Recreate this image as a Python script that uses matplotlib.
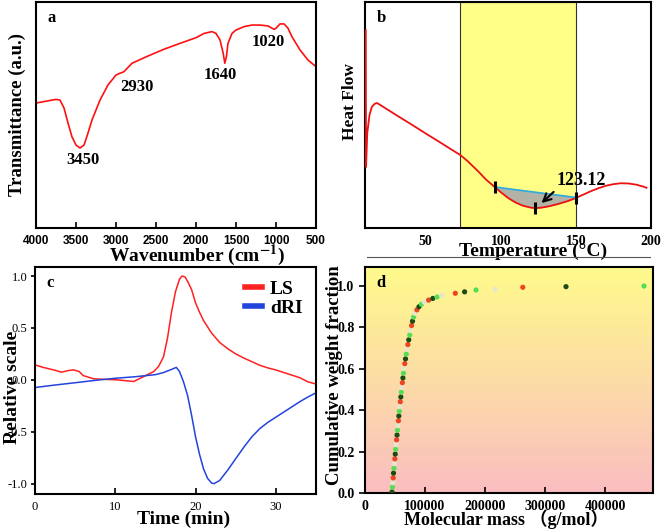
import numpy as np
import matplotlib
matplotlib.use('Agg')
import matplotlib.pyplot as plt
from matplotlib.lines import Line2D

plt.rcParams['mathtext.fontset'] = 'stix'

# ---- a: FTIR ----
wn_a = [4000, 3750, 3700, 3650, 3600, 3550, 3500, 3450, 3400, 3350, 3300, 3200, 3100, 3000,
        2950, 2930, 2900, 2800, 2600, 2400, 2200, 2000, 1900, 1800, 1750, 1700, 1660, 1640,
        1620, 1600, 1550, 1500, 1400, 1300, 1200, 1100, 1050, 1020, 1000, 950, 900, 850,
        800, 700, 600, 500]
tr_a = [55.3, 56.9, 56.6, 53.1, 46.5, 40.3, 36.7, 35.4, 36.7, 42.0, 47.8, 56.6, 63.3, 67.7,
        68.5, 68.7, 69.2, 72.9, 76.1, 79.1, 81.7, 84.2, 86.1, 86.9, 86.1, 83.2, 77.3, 72.9,
        75.8, 81.7, 86.1, 87.6, 89.1, 89.8, 89.8, 89.4, 88.4, 87.9, 88.4, 90.3, 90.3, 88.4,
        84.6, 78.8, 74.3, 71.4]
peaks_a = ['3450', '2930', '1640', '1020']
peak_pos_a = [(3412, 30), (2737, 62.4), (1700, 67.7), (1100, 82.3)]

# ---- b: DSC ----
temp_b = [10, 10.2, 11, 12.5, 14, 16, 17.5, 20, 30, 40, 50, 60, 70, 73, 78, 85, 90, 96, 100,
          105, 110, 115, 120, 123, 127, 132, 138, 145, 150, 155, 160, 165, 170, 175, 180,
          185, 190, 195, 197]
heat_b = [0.876, 0.27, 0.42, 0.50, 0.535, 0.55, 0.553, 0.543, 0.501, 0.46, 0.418, 0.377,
          0.335, 0.323, 0.295, 0.25, 0.215, 0.181, 0.158, 0.132, 0.112, 0.098, 0.09, 0.088,
          0.09, 0.096, 0.106, 0.12, 0.133, 0.148, 0.163, 0.176, 0.187, 0.194, 0.198, 0.197,
          0.192, 0.183, 0.178]
band_b = (73, 150)
base_t_b = [96, 150]
base_h_b = [0.181, 0.135]
mark_t_b = [96, 123, 150]
peak_label_b = '123.12'

# ---- c: GPC traces ----
t_ls = [0, 1, 2.3, 3.3, 4.2, 4.8, 5.5, 6, 7.3, 8.5, 10.2, 11.5, 12.3, 13.5, 14.8, 15.4, 16,
        16.5, 17, 17.5, 18, 18.3, 18.7, 19, 19.5, 20, 20.5, 21, 22, 23, 24, 25, 26, 27, 28,
        29, 30, 31, 32, 33, 34, 35]
ls = [0.144, 0.12, 0.096, 0.074, 0.09, 0.096, 0.08, 0.041, 0.01, 0.005, 0.0, -0.01, -0.016,
      0.03, 0.08, 0.13, 0.22, 0.4, 0.65, 0.85, 0.97, 1.0, 0.99, 0.95, 0.87, 0.74, 0.65, 0.57,
      0.45, 0.36, 0.3, 0.25, 0.21, 0.175, 0.14, 0.115, 0.095, 0.07, 0.045, 0.02, -0.02, -0.04]
t_dri = [0, 2.5, 5, 7.5, 10, 12.5, 15, 16, 17, 17.6, 18, 18.5, 19, 19.5, 20, 20.5, 21, 21.5,
         22, 22.3, 23, 24, 25, 26, 27, 28, 29, 30, 31, 32, 33, 34, 35]
dri = [-0.074, -0.05, -0.028, -0.005, 0.015, 0.03, 0.05, 0.07, 0.1, 0.12, 0.08, -0.02, -0.15,
       -0.34, -0.55, -0.72, -0.86, -0.95, -0.995, -1.0, -0.97, -0.87, -0.76, -0.65, -0.55,
       -0.47, -0.41, -0.36, -0.31, -0.26, -0.21, -0.165, -0.125]

# ---- d: cumulative weight fraction ----
mass_d = [45000, 45800, 46500, 47000, 47500, 48200, 49000, 49700, 50400, 51100, 51900, 52600,
          53400, 54100, 54900, 55700, 56400, 57200, 58000, 58800, 59700, 60500, 61400, 62300,
          63200, 64100, 65100, 66300, 67500, 68800, 70000, 71400, 72900, 74500, 76000, 77600,
          79200, 81000, 83500, 86500, 90000, 94000, 99000, 106000, 113000, 120000, 128000,
          150500, 166000, 185000, 217000, 263000, 335000, 465000]
frac_d = [0.005, 0.028, 0.05, 0.073, 0.096, 0.119, 0.142, 0.165, 0.188, 0.211, 0.234, 0.257,
          0.28, 0.303, 0.326, 0.349, 0.372, 0.395, 0.418, 0.441, 0.464, 0.487, 0.51, 0.533,
          0.556, 0.579, 0.602, 0.625, 0.648, 0.671, 0.694, 0.717, 0.74, 0.763, 0.786, 0.809,
          0.83, 0.85, 0.868, 0.885, 0.9, 0.912, 0.922, 0.932, 0.94, 0.947, 0.955,
          0.965, 0.972, 0.981, 0.984, 0.994, 0.997, 1.0]

SERIF = 'Liberation Serif'
dot_cols = ['#EE4422', '#1E4A14', '#55DD55', '#E6E6CC']

fig = plt.figure(figsize=(6.61, 5.30), dpi=100)
ax_a = fig.add_axes([36/661, 1-228/530, 280/661, 226/530])
ax_b = fig.add_axes([365/661, 1-228/530, 286/661, 226/530])
ax_c = fig.add_axes([35/661, 1-494/530, 281/661, 227/530])
ax_d = fig.add_axes([365/661, 1-493/530, 288/661, 226/530])

for ax in [ax_a, ax_b, ax_c, ax_d]:
    for sp in ax.spines.values():
        sp.set_linewidth(1.5)
    ax.tick_params(axis='x', direction='in', length=4, width=1.2, pad=5)
    ax.tick_params(axis='y', direction='out', length=4, width=1.2)

# a
ax_a.plot(wn_a, tr_a, color='#FF1010', lw=1.2)
ax_a.set_xlim(4000, 500)
ax_a.set_ylim(0, 100)
ax_a.set_xticks([4000, 3500, 3000, 2500, 2000, 1500, 1000, 500])
ax_a.set_yticks([])
for lb in ax_a.get_xticklabels():
    lb.set_fontfamily('Liberation Sans')
    lb.set_fontweight('bold')
    lb.set_fontsize(8.5)
for txt, (x, y) in zip(peaks_a, peak_pos_a):
    ax_a.text(x, y, txt, ha='center', va='center', fontsize=12, fontweight='bold', family=SERIF)
ax_a.text(0.04, 0.93, 'a', transform=ax_a.transAxes, fontsize=12, fontweight='bold',
          family=SERIF, va='center')
ax_a.set_xlabel('Wavenumber (cm$^{\\mathbf{-1}}$)', fontsize=14, fontweight='bold', family=SERIF)
ax_a.xaxis.set_label_coords(0.575, -0.065)
ax_a.set_ylabel('Transmittance (a.u.)', fontsize=13.5, fontweight='bold', family=SERIF)
ax_a.yaxis.set_label_coords(-0.035, 0.5)

# b
ax_b.axvspan(band_b[0], band_b[1], facecolor='#FFFF88', edgecolor='#333333', lw=0.8, zorder=0)
ax_b.plot(temp_b, heat_b, color='#EE1111', lw=1.3, zorder=3)
bt = np.linspace(base_t_b[0], base_t_b[1], 100)
ax_b.fill_between(bt, np.interp(bt, temp_b, heat_b), np.interp(bt, base_t_b, base_h_b),
                  color='#AAAAAA', alpha=0.9, lw=0, zorder=2)
ax_b.plot(base_t_b, base_h_b, color='#33AADD', lw=1.3, zorder=3)
ax_b.plot(mark_t_b, np.interp(mark_t_b, temp_b, heat_b), ls='none', marker='|', color='black',
          ms=8, mew=2.2, zorder=4)
ax_b.annotate('', xy=(125.7, 0.102), xytext=(136.5, 0.168),
              arrowprops=dict(arrowstyle='->', color='black', lw=1.5, mutation_scale=14), zorder=5)
ax_b.text(137, 0.172, peak_label_b, ha='left', va='bottom', fontsize=13, fontweight='bold',
          family=SERIF)
ax_b.set_xlim(9.5, 200)
ax_b.set_ylim(0, 1)
ax_b.set_xticks([50, 100, 150, 200])
ax_b.set_yticks([])
ax_b.tick_params(axis='x', length=0)
for lb in ax_b.get_xticklabels():
    lb.set_fontfamily(SERIF)
    lb.set_fontweight('bold')
    lb.set_fontsize(10)
ax_b.text(0.04, 0.93, 'b', transform=ax_b.transAxes, fontsize=12, fontweight='bold',
          family=SERIF, va='center')
ax_b.set_xlabel('Temperature (\u00b0C)', fontsize=14, fontweight='bold', family=SERIF)
ax_b.xaxis.set_label_coords(0.587, -0.065)
ax_b.set_ylabel('Heat Flow', fontsize=12.5, fontweight='bold', family=SERIF)
ax_b.yaxis.set_label_coords(-0.024, 0.56)
fig.add_artist(Line2D([367/661, 650/661], [1-257/530, 1-257/530], color='#555555', lw=0.8))

# c
ax_c.plot(t_ls, ls, color='#FF2020', lw=1.1, label='LS')
ax_c.plot(t_dri, dri, color='#2244DD', lw=1.1, label='dRI')
ax_c.set_xlim(0, 35)
ax_c.set_ylim(-1.1, 1.087)
ax_c.set_xticks([0, 10, 20, 30])
ax_c.set_yticks([-1.0, -0.5, 0.0, 0.5, 1.0])
ax_c.set_yticklabels(['-1.0', '-0.5', '0.0', '0.5', '1.0'])
ax_c.tick_params(axis='y', length=3, pad=2.5)
for lb in ax_c.get_xticklabels() + ax_c.get_yticklabels():
    lb.set_fontfamily(SERIF)
    lb.set_fontsize(9)
leg = ax_c.legend(loc='upper right', frameon=False, handlelength=0.9, handletextpad=0.4,
                  labelspacing=0.05, borderaxespad=0.3,
                  prop={'family': SERIF, 'weight': 'bold', 'size': 14})
for h in leg.get_lines():
    h.set_linewidth(4)
ax_c.text(0.04, 0.93, 'c', transform=ax_c.transAxes, fontsize=12, fontweight='bold',
          family=SERIF, va='center')
ax_c.set_xlabel('Time (min)', fontsize=14, fontweight='bold', family=SERIF)
ax_c.xaxis.set_label_coords(0.53, -0.075)
ax_c.set_ylabel('Relative scale', fontsize=14, fontweight='bold', family=SERIF)
ax_c.yaxis.set_label_coords(-0.05, 0.47)

# d
top = np.array([255, 250, 140]) / 255
bot = np.array([250, 190, 192]) / 255
grad = np.linspace(top, bot, 64).reshape(64, 1, 3)
ax_d.imshow(grad, aspect='auto', extent=[0, 480000, 0, 1.092], interpolation='bilinear',
            zorder=0)
cols = [dot_cols[(i + 1) % 4] for i in range(len(mass_d))]
ax_d.scatter(mass_d, frac_d, s=14, c=cols, lw=0, zorder=3)
ax_d.set_xlim(0, 480000)
ax_d.set_ylim(0, 1.092)
ax_d.set_xticks([0, 100000, 200000, 300000, 400000])
ax_d.set_xticklabels(['0', '100000', '200000', '300000', '400000'])
ax_d.set_yticks([0.0, 0.2, 0.4, 0.6, 0.8, 1.0])
ax_d.set_yticklabels(['0.0', '0.2', '0.4', '0.6', '0.8', '1.0'])
for lb in ax_d.get_xticklabels() + ax_d.get_yticklabels():
    lb.set_fontfamily(SERIF)
    lb.set_fontweight('bold')
    lb.set_fontsize(10)
ax_d.text(0.04, 0.93, 'd', transform=ax_d.transAxes, fontsize=12, fontweight='bold',
          family=SERIF, va='center')
ax_d.set_xlabel('Molecular mass \uff08g/mol\uff09', fontsize=13, fontweight='bold',
                family=[SERIF, 'Noto Sans CJK SC'])
ax_d.xaxis.set_label_coords(0.49, -0.075)
ax_d.set_ylabel('Cumulative weight fraction', fontsize=13.5, fontweight='bold', family=SERIF)
ax_d.yaxis.set_label_coords(-0.076, 0.52)

fig.savefig('out.png', dpi=100)
